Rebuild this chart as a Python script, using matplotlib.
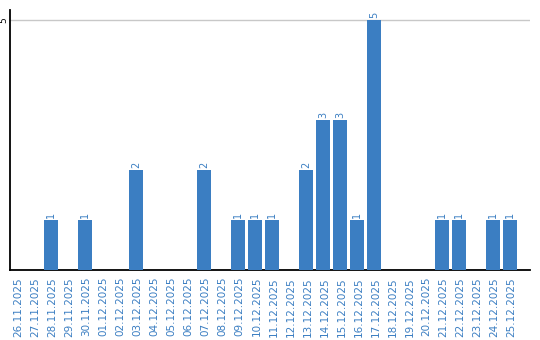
import numpy as np
import matplotlib
matplotlib.use('Agg')
import matplotlib.pyplot as plt

dates = ['26.11.2025', '27.11.2025', '28.11.2025', '29.11.2025', '30.11.2025',
         '01.12.2025', '02.12.2025', '03.12.2025', '04.12.2025', '05.12.2025',
         '06.12.2025', '07.12.2025', '08.12.2025', '09.12.2025', '10.12.2025',
         '11.12.2025', '12.12.2025', '13.12.2025', '14.12.2025', '15.12.2025',
         '16.12.2025', '17.12.2025', '18.12.2025', '19.12.2025', '20.12.2025',
         '21.12.2025', '22.12.2025', '23.12.2025', '24.12.2025', '25.12.2025']
counts = [0, 0, 1, 0, 1, 0, 0, 2, 0, 0, 0, 2, 0, 1, 1,
          1, 0, 2, 3, 3, 1, 5, 0, 0, 0, 1, 1, 0, 1, 1]

blue = '#3b7ec2'

fig = plt.figure(figsize=(5.4, 3.4), dpi=100)
ax = fig.add_axes([10 / 540, 70 / 340, 520 / 540, 260 / 340])

x = np.arange(len(dates))
ax.bar(x, counts, width=14 / 17, align='edge', color=blue, zorder=3)

for xi, c in zip(x, counts):
    if c > 0:
        ax.text(xi + 7 / 17, c + 0.04, str(c), rotation=90, ha='center', va='bottom',
                color=blue, fontsize=7)

ax.set_xlim(0, 520 / 17)
ax.set_ylim(0, 5.2)
ax.set_xticks(x + 0.5)
ax.set_xticklabels(dates, rotation=90, color=blue, fontsize=7.5)
ax.set_yticks([5])
ax.set_yticklabels(['5'], rotation=90, va='center', fontsize=6.5)
ax.tick_params(axis='x', length=0, pad=5)
ax.tick_params(axis='y', length=0, pad=1)
ax.axhline(5, color='#c8c8c8', lw=1, zorder=1)

ax.spines['top'].set_visible(False)
ax.spines['right'].set_visible(False)
ax.spines['left'].set_linewidth(1.3)
ax.spines['bottom'].set_linewidth(1.3)

fig.savefig('out.png', dpi=100)
